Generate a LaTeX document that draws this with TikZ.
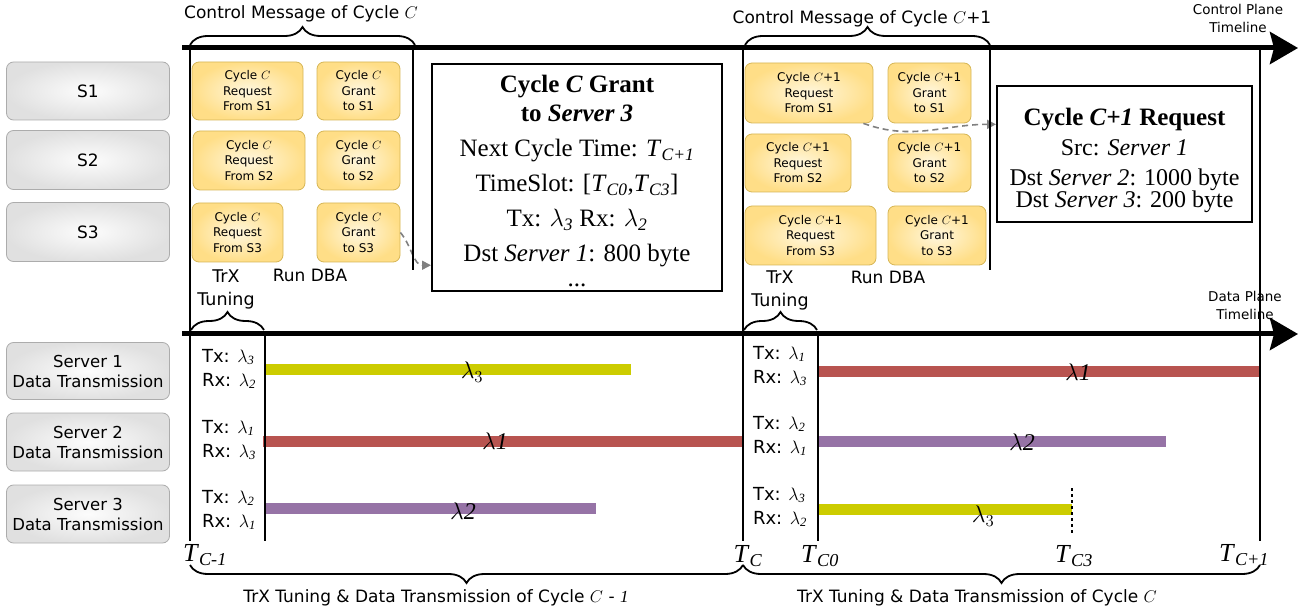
\RequirePackage{fix-cm}
\documentclass[tikz,border=0pt]{standalone}
\usepackage{fontspec}
\setmainfont{DejaVu Sans}
\newfontfamily\timesfont{Liberation Serif}
\usetikzlibrary{arrows.meta,decorations.pathreplacing}
\definecolor{lamred}{RGB}{184,84,80}
\definecolor{lampurple}{RGB}{150,115,166}
\definecolor{lamyellow}{RGB}{204,204,0}
\definecolor{msgedge}{RGB}{214,182,86}
\definecolor{msgin}{RGB}{255,247,222}
\definecolor{msgout}{RGB}{255,222,135}
\newcommand{\wl}[1]{$\lambda$\textsubscript{\timesfont\itshape #1}}
\newcommand{\tsym}[1]{\textit{T}\textsubscript{\textit{#1}}}
\begin{document}
\begin{tikzpicture}[x=1pt,y=-1pt]
\tikzstyle{hostbox}=[draw=gray!65,line width=0.8pt,rounded corners=7pt,inner color=gray!2,outer color=gray!24,minimum width=163pt,align=center]
\tikzstyle{msgbox}=[draw=msgedge,line width=0.8pt,rounded corners=7pt,inner color=msgin,outer color=msgout,align=center,inner sep=0pt,font=\fontsize{12}{15.5}\selectfont]
\tikzstyle{timeline}=[line width=5pt,-{Stealth[length=28pt,width=32pt,inset=4pt]}]
\tikzstyle{tick}=[line width=2pt]
\tikzstyle{lam}=[line width=11pt]
\tikzstyle{brc}=[line width=1.8pt,decorate,decoration={brace,amplitude=18pt}]
\tikzstyle{trx}=[align=left,inner sep=0pt,font=\fontsize{18}{24}\selectfont]
\tikzstyle{msgtext}=[draw,line width=2pt,align=center,font=\timesfont\fontsize{25}{35}\selectfont]
\tikzstyle{hint}=[gray,line width=1.6pt,dash pattern=on 6pt off 4pt,-{Triangle[length=9pt,width=9pt]}]
\tikzstyle{tlabel}=[inner sep=0pt,font=\timesfont\fontsize{26}{26}\selectfont]
\tikzstyle{lamlabel}=[inner sep=0pt,font=\fontsize{24}{24}\selectfont]
\tikzstyle{plain}=[inner sep=0pt,align=center,font=\fontsize{17}{20}\selectfont]
\tikzstyle{small}=[inner sep=0pt,align=center,font=\fontsize{13.5}{18}\selectfont]
\useasboundingbox (0,0) rectangle (1304,612);

\node[hostbox,minimum height=58pt,font=\fontsize{17}{20}\selectfont] (s1) at (88,91) {S1};
\node[hostbox,minimum height=59pt,font=\fontsize{17}{20}\selectfont] (s2) at (88,160) {S2};
\node[hostbox,minimum height=59pt,font=\fontsize{17}{20}\selectfont] (s3) at (88,232) {S3};
\node[hostbox,minimum height=57pt,font=\fontsize{16.5}{20}\selectfont] (srv1) at (88,371) {Server 1\\Data Transmission};
\node[hostbox,minimum height=58pt,font=\fontsize{16.5}{20}\selectfont] (srv2) at (88,442) {Server 2\\Data Transmission};
\node[hostbox,minimum height=58pt,font=\fontsize{16.5}{20}\selectfont] (srv3) at (88,514) {Server 3\\Data Transmission};

\node[msgbox,minimum width=111pt,minimum height=58pt] (rqa1) at (247.5,91) {Cycle $C$\\Request\\From S1};
\node[msgbox,minimum width=83pt,minimum height=58pt] (gra1) at (358.5,91) {Cycle $C$\\Grant\\to S1};
\node[msgbox,minimum width=112pt,minimum height=59pt] (rqa2) at (249,160.5) {Cycle $C$\\Request\\From S2};
\node[msgbox,minimum width=83pt,minimum height=59pt] (gra2) at (358.5,160.5) {Cycle $C$\\Grant\\to S2};
\node[msgbox,minimum width=91pt,minimum height=59pt] (rqa3) at (237.5,232.5) {Cycle $C$\\Request\\From S3};
\node[msgbox,minimum width=83pt,minimum height=59pt] (gra3) at (358.5,232.5) {Cycle $C$\\Grant\\to S3};

\node[msgbox,minimum width=128pt,minimum height=60pt] (rqb1) at (809,93) {Cycle $C$+1\\Request\\From S1};
\node[msgbox,minimum width=83pt,minimum height=60pt] (grb1) at (929.5,93) {Cycle $C$+1\\Grant\\to S1};
\node[msgbox,minimum width=106pt,minimum height=58pt] (rqb2) at (798,163) {Cycle $C$+1\\Request\\From S2};
\node[msgbox,minimum width=83pt,minimum height=58pt] (grb2) at (929.5,163) {Cycle $C$+1\\Grant\\to S2};
\node[msgbox,minimum width=131pt,minimum height=59pt] (rqb3) at (810.5,235.5) {Cycle $C$+1\\Request\\From S3};
\node[msgbox,minimum width=98pt,minimum height=59pt] (grb3) at (937,235.5) {Cycle $C$+1\\Grant\\to S3};

\node[msgtext,minimum width=290pt,minimum height=219pt] (grant) at (577,177.5) {\rule{0pt}{25pt}\textbf{Cycle \textit{C} Grant}\\[-6pt]\textbf{to \textit{Server 3}}\\Next Cycle Time: \tsym{C+1}\\TimeSlot: [\tsym{C0},\tsym{C3}]\\Tx: \wl{3} Rx: \wl{2}\\Dst \textit{Server 1}: 800 byte\\[-10pt]...};
\node[msgtext,minimum width=255pt,minimum height=136pt,font=\timesfont\fontsize{24}{32}\selectfont] (req) at (1124.5,154) {\rule{0pt}{31pt}\textbf{\fontsize{25}{32}\selectfont Cycle \textit{C+1} Request}\\[-2pt]Src: \textit{Server 1}\\[-2pt]Dst \textit{Server 2}: 1000 byte\\[-10pt]Dst \textit{Server 3}: 200 byte};

\draw[hint] (gra3.east) to[out=-50,in=180] (grant.211);
\draw[hint] ([xshift=-10pt]rqb1.south east) to[out=-20,in=180] (req.167);

\draw[lam,lamyellow] (265,369) -- (631,369);
\draw[lam,lamred] (263,441) -- (743,441);
\draw[lam,lampurple] (265,508) -- (596,508);
\draw[lam,lamred] (818,371) -- (1260,371);
\draw[lam,lampurple] (818,441) -- (1166,441);
\draw[lam,lamyellow] (818,509) -- (1072,509);

\coordinate (cpa) at (182,48);
\coordinate (cpb) at (1298,48);
\coordinate (dpa) at (182,334);
\coordinate (dpb) at (1298,334);
\draw[timeline] (cpa) -- (cpb);
\draw[timeline] (dpa) -- (dpb);

\foreach \x/\ya/\yb in {190/48/541,265/334/541,413/48/270,743/48/541,818/334/541,990/48/270,1260/48/541}
  \draw[tick] (\x,\ya) -- (\x,\yb);
\draw[tick,dashed] (1072,488) -- (1072,535);

\draw[brc] (190,45) -- (415,45);
\draw[brc] (745,45) -- (990,45);
\draw[brc] (191,330) -- (264,330);
\draw[brc] (744,330) -- (817,330);
\draw[brc] (743,565) -- (190,565);
\draw[brc] (1260,565) -- (743,565);

\node[plain] (cma) at (301,14) {Control Message of Cycle $C$};
\node[plain] (cmb) at (862,19) {Control Message of Cycle $C$+1};
\node[small] (cpl) at (1238,18) {Control Plane\\Timeline};
\node[small] (dpl) at (1245,305) {Data Plane\\Timeline};
\node[plain,font=\fontsize{17.5}{23}\selectfont] (tuna) at (226,289) {TrX\\Tuning};
\node[plain,font=\fontsize{17.5}{23}\selectfont] (tunb) at (780,290) {TrX\\Tuning};
\node[plain] (dbaa) at (310,275) {Run DBA};
\node[plain] (dbab) at (888,277) {Run DBA};

\node[trx] (txa1) at (229,369) {Tx: \wl{3}\\Rx: \wl{2}};
\node[trx] (txa2) at (229,440) {Tx: \wl{1}\\Rx: \wl{3}};
\node[trx] (txa3) at (229,510) {Tx: \wl{2}\\Rx: \wl{1}};
\node[trx] (txb1) at (780,366) {Tx: \wl{1}\\Rx: \wl{3}};
\node[trx] (txb2) at (780,436) {Tx: \wl{2}\\Rx: \wl{1}};
\node[trx] (txb3) at (780,507) {Tx: \wl{3}\\Rx: \wl{2}};

\node[lamlabel] (la1) at (472,372) {$\lambda_3$};
\node[lamlabel] (la2) at (495,441) {$\lambda${\timesfont\itshape 1}};
\node[lamlabel] (la3) at (463,511) {$\lambda${\timesfont\itshape 2}};
\node[lamlabel] (lb1) at (1078,372) {$\lambda${\timesfont\itshape 1}};
\node[lamlabel] (lb2) at (1022,442) {$\lambda${\timesfont\itshape 2}};
\node[lamlabel] (lb3) at (983,516) {$\lambda_3$};

\node[tlabel] (tcm) at (205,555) {\tsym{C-1}};
\node[tlabel] (tc) at (748,556) {\tsym{C}};
\node[tlabel] (tc0) at (820,556) {\tsym{C0}};
\node[tlabel] (tc3) at (1074,556) {\tsym{C3}};
\node[tlabel] (tcp) at (1244,555) {\tsym{C+1}};

\node[plain] (cya) at (436,598) {TrX Tuning \& Data Transmission of Cycle $C$ - {\timesfont\itshape 1}};
\node[plain] (cyb) at (977,598) {TrX Tuning \& Data Transmission of Cycle $C$};
\end{tikzpicture}
\end{document}
